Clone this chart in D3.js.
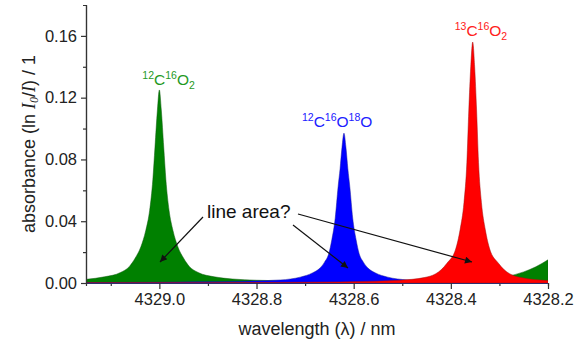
<!DOCTYPE html>
<html>
<head>
<meta charset="utf-8">
<script src="https://cdn.jsdelivr.net/npm/d3@7"></script>
<style>
  body { margin: 0; background: #fff; }
  svg { font-family: "Liberation Sans", Arial, sans-serif; }
  .axis path, .axis line { stroke: #333; stroke-width: 1.2px; }
  .axis text { fill: #222; font-size: 16.5px; font-family: "Liberation Sans", Arial, sans-serif; }
</style>
</head>
<body>
<script>
//spectra: wavelength (nm) and absorbance
var greenWl  = [4329.15, 4329.113, 4329.08, 4329.062, 4329.05, 4329.038, 4329.028, 4329.02, 4329.0134, 4329.009, 4329.004, 4329.000,
                4328.996, 4328.991, 4328.9866, 4328.98, 4328.972, 4328.962, 4328.95, 4328.938, 4328.92, 4328.887, 4328.85, 4328.80,
                4328.70, 4328.60, 4328.50, 4328.40, 4328.35, 4328.30, 4328.285, 4328.25, 4328.225, 4328.20];
var greenAbs = [0.0024, 0.0040, 0.0068, 0.0106, 0.0160, 0.0235, 0.0340, 0.0470, 0.0670, 0.0880, 0.1120, 0.1250,
                0.1120, 0.0880, 0.0670, 0.0470, 0.0340, 0.0235, 0.0160, 0.0106, 0.0068, 0.0040, 0.0026, 0.0018,
                0.0012, 0.0010, 0.0010, 0.0013, 0.0019, 0.0032, 0.0042, 0.0072, 0.0105, 0.0150];

var blueWl  = [4329.15, 4329.0, 4328.92, 4328.82, 4328.75, 4328.71, 4328.685, 4328.67, 4328.66, 4328.651, 4328.645, 4328.638,
               4328.632, 4328.628, 4328.624, 4328.620, 4328.616, 4328.612, 4328.608, 4328.602, 4328.595, 4328.589, 4328.58,
               4328.57, 4328.555, 4328.53, 4328.49, 4328.42, 4328.32, 4328.2];
var blueAbs = [0.0003, 0.0005, 0.0008, 0.0012, 0.0020, 0.0038, 0.0065, 0.0095, 0.0135, 0.0193, 0.0280, 0.0420,
               0.0625, 0.0740, 0.0880, 0.0970, 0.0880, 0.0740, 0.0625, 0.0420, 0.0280, 0.0193, 0.0135,
               0.0095, 0.0065, 0.0038, 0.0020, 0.0010, 0.0006, 0.0004];

var redWl  = [4329.15, 4328.9, 4328.7, 4328.555, 4328.505, 4328.455, 4328.431, 4328.42, 4328.408, 4328.39, 4328.381, 4328.373,
              4328.367, 4328.363, 4328.359, 4328.355, 4328.351, 4328.347, 4328.343, 4328.337, 4328.329, 4328.32, 4328.302,
              4328.29, 4328.279, 4328.255, 4328.2];
var redAbs = [0.0001, 0.0002, 0.0005, 0.0012, 0.0018, 0.0035, 0.0060, 0.0085, 0.0128, 0.0220, 0.0344, 0.0520,
              0.0780, 0.1120, 0.1400, 0.1560, 0.1400, 0.1120, 0.0780, 0.0520, 0.0344, 0.0220, 0.0128,
              0.0085, 0.0060, 0.0035, 0.0016];

//axis ticks
var xTicks = [4329.0, 4328.8, 4328.6, 4328.4, 4328.2];
var xMinor = [4329.1, 4328.9, 4328.7, 4328.5, 4328.3];
var yTicks = [0.00, 0.04, 0.08, 0.12, 0.16];
var yMinor = [0.02, 0.06, 0.10, 0.14];

//peak labels and where the peaks sit
var peakNames = ["12C16O2", "12C16O18O", "13C16O2"];
var peakWl = [4329.0, 4328.62, 4328.355];
var peakAbs = [0.125, 0.097, 0.156];

var width = 577, height = 343;
var margin = {left: 86, right: 29, top: 5, bottom: 60};

var svg = d3.select("body").append("svg")
    .attr("width", width)
    .attr("height", height);

//wavelength axis runs backwards
var x = d3.scaleLinear()
    .domain([4329.151, 4328.2])
    .range([margin.left, width - margin.right]);

var y = d3.scaleLinear()
    .domain([0, 0.18])
    .range([height - margin.bottom, margin.top]);

svg.append("clipPath").attr("id", "plotclip")
    .append("rect")
    .attr("x", margin.left).attr("y", margin.top)
    .attr("width", width - margin.right - margin.left)
    .attr("height", height - margin.bottom - margin.top);

var area = d3.area()
    .x(function(d){ return x(d[0]); })
    .y0(y(0))
    .y1(function(d){ return y(d[1]); })
    .curve(d3.curveMonotoneX);

var series = [
    {wl: greenWl, abs: greenAbs, fill: "#008000", stroke: "#105a10"},
    {wl: blueWl, abs: blueAbs, fill: "#0000ff", stroke: "#1a1a9c"},
    {wl: redWl, abs: redAbs, fill: "#ff0000", stroke: "#a01010"}
];

var plot = svg.append("g").attr("clip-path", "url(#plotclip)");

plot.selectAll(".spec")
    .data(series)
    .enter()
    .append("path")
    .attr("class", "spec")
    .attr("d", function(s){
        return area(s.wl.map(function(w, i){ return [w, s.abs[i]]; }));
    })
    .attr("fill", function(s){ return s.fill; })
    .attr("stroke", function(s){ return s.stroke; })
    .attr("stroke-width", 0.5);

//axes
svg.append("g").attr("class", "axis")
    .attr("transform", "translate(0," + y(0) + ")")
    .call(d3.axisBottom(x).tickValues(xMinor).tickSize(3).tickFormat(""));
var xAx = svg.append("g").attr("class", "axis")
    .attr("transform", "translate(0," + y(0) + ")")
    .call(d3.axisBottom(x).tickValues(xTicks).tickSize(6).tickSizeOuter(0).tickPadding(4)
        .tickFormat(d3.format(".1f")));
xAx.select(".domain").style("stroke", "#2e2e6e");

svg.append("g").attr("class", "axis")
    .attr("transform", "translate(" + margin.left + ",0)")
    .call(d3.axisLeft(y).tickValues(yMinor).tickSize(3).tickFormat(""));
svg.append("g").attr("class", "axis")
    .attr("transform", "translate(" + margin.left + ",0)")
    .call(d3.axisLeft(y).tickValues(yTicks).tickSize(5).tickSizeOuter(0).tickPadding(4)
        .tickFormat(d3.format(".2f")));

//axis titles
svg.append("text")
    .attr("x", (margin.left + width - margin.right) / 2)
    .attr("y", 335)
    .attr("text-anchor", "middle")
    .attr("font-size", 18)
    .attr("fill", "#222")
    .text("wavelength (\u03bb) / nm");

var yTitle = svg.append("text")
    .attr("transform", "translate(35,144) rotate(-90)")
    .attr("text-anchor", "middle")
    .attr("font-size", 18)
    .attr("fill", "#222");
yTitle.append("tspan").text("absorbance (ln ");
yTitle.append("tspan").attr("font-family", "Liberation Serif, serif").attr("font-style", "italic").text("I");
yTitle.append("tspan").attr("font-family", "Liberation Serif, serif").attr("font-style", "italic")
    .attr("font-size", 12).attr("dy", 3).text("0");
yTitle.append("tspan").attr("dy", -3).text("/");
yTitle.append("tspan").attr("font-family", "Liberation Serif, serif").attr("font-style", "italic").text("I");
yTitle.append("tspan").text(") / 1");

//peak labels with super/subscripts
var labelColors = ["#1f9a1f", "#2020ff", "#ff2020"];
var labelDx = [-17, -42, -18];
var labelDy = [-5, -6, -6];
var parts = [
    [["12", "sup"], ["C", ""], ["16", "sup"], ["O", ""], ["2", "sub"]],
    [["12", "sup"], ["C", ""], ["16", "sup"], ["O", ""], ["18", "sup"], ["O", ""]],
    [["13", "sup"], ["C", ""], ["16", "sup"], ["O", ""], ["2", "sub"]]
];

peakNames.forEach(function(name, i){
    var t = svg.append("text")
        .attr("x", x(peakWl[i]) + labelDx[i])
        .attr("y", y(peakAbs[i]) + labelDy[i])
        .attr("fill", labelColors[i]);
    var shift = 0;
    parts[i].forEach(function(p){
        var target = p[1] == "sup" ? -6 : p[1] == "sub" ? 4 : 0;
        t.append("tspan")
            .attr("dy", target - shift)
            .attr("font-size", p[1] ? 10.5 : 15.5)
            .text(p[0]);
        shift = target;
    });
});

//annotation and arrows
svg.append("defs").append("marker")
    .attr("id", "head")
    .attr("viewBox", "0 0 10 10")
    .attr("refX", 10).attr("refY", 5)
    .attr("markerWidth", 10).attr("markerHeight", 7)
    .attr("markerUnits", "userSpaceOnUse")
    .attr("orient", "auto")
    .append("path")
    .attr("d", "M0,0L10,5L0,10z")
    .attr("fill", "#111");

svg.append("text")
    .attr("x", 207)
    .attr("y", 218)
    .attr("font-size", 19)
    .attr("fill", "#111")
    .text("line area?");

var arrows = [
    [[203, 217], [160, 262]],
    [[293, 225], [348, 268]],
    [[298, 214], [472, 262]]
];
svg.selectAll(".arrow")
    .data(arrows)
    .enter()
    .append("line")
    .attr("class", "arrow")
    .attr("x1", function(d){ return d[0][0]; })
    .attr("y1", function(d){ return d[0][1]; })
    .attr("x2", function(d){ return d[1][0]; })
    .attr("y2", function(d){ return d[1][1]; })
    .attr("stroke", "#111")
    .attr("stroke-width", 1.2)
    .attr("marker-end", "url(#head)");
</script>
</body>
</html>
